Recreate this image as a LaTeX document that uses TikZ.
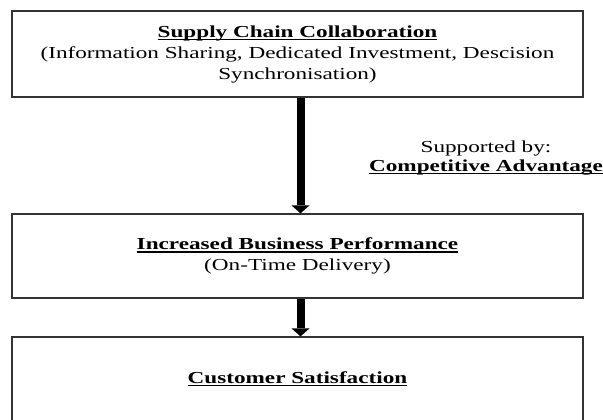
\documentclass[tikz,border=0pt]{standalone}
\usepackage{fontspec}
\setmainfont{Liberation Serif}[FakeStretch=1.38]
\usetikzlibrary{arrows.meta}
% bold heading with a close underline
\newcommand{\headline}[1]{\textbf{\setbox0\hbox{#1}\rlap{\rule[-3bp]{\wd0}{1.3bp}}\box0}}

\begin{document}
\begin{tikzpicture}[x=1bp, y=-1bp,
    font=\fontsize{16.8bp}{21bp}\selectfont,
    block/.style={draw=black!80, line width=1.2bp, minimum width=571bp, inner sep=0pt, align=center},
    flowarrow/.style={line width=8bp, -{Triangle[width=18bp,length=8bp,line width=0pt]}}]
  \useasboundingbox (0,0) rectangle (603,419);
  % the three stages
  \node[block, minimum height=86bp] (scc) at (297.5,54)
    {\headline{Supply Chain Collaboration}\\
     (Information Sharing, Dedicated Investment, Descision\\
     Synchronisation)};
  \node[block, minimum height=84bp] (ibp) at (297.5,256)
    {\headline{Increased Business Performance}\\
     (On-Time Delivery)};
  \node[block, minimum height=84bp] (cs) at (297.5,379)
    {\headline{Customer Satisfaction}};
  % links between stages
  \draw[flowarrow] ([xshift=3bp]scc.south) -- ([xshift=3bp]ibp.north);
  \draw[flowarrow] ([xshift=3bp]ibp.south) -- ([xshift=3bp]cs.north);
  % side note
  \node[anchor=base] (supp) at (486,152) {Supported by:};
  \node[anchor=base] (adv) at (486,171) {\headline{Competitive Advantage}};
\end{tikzpicture}
\end{document}
